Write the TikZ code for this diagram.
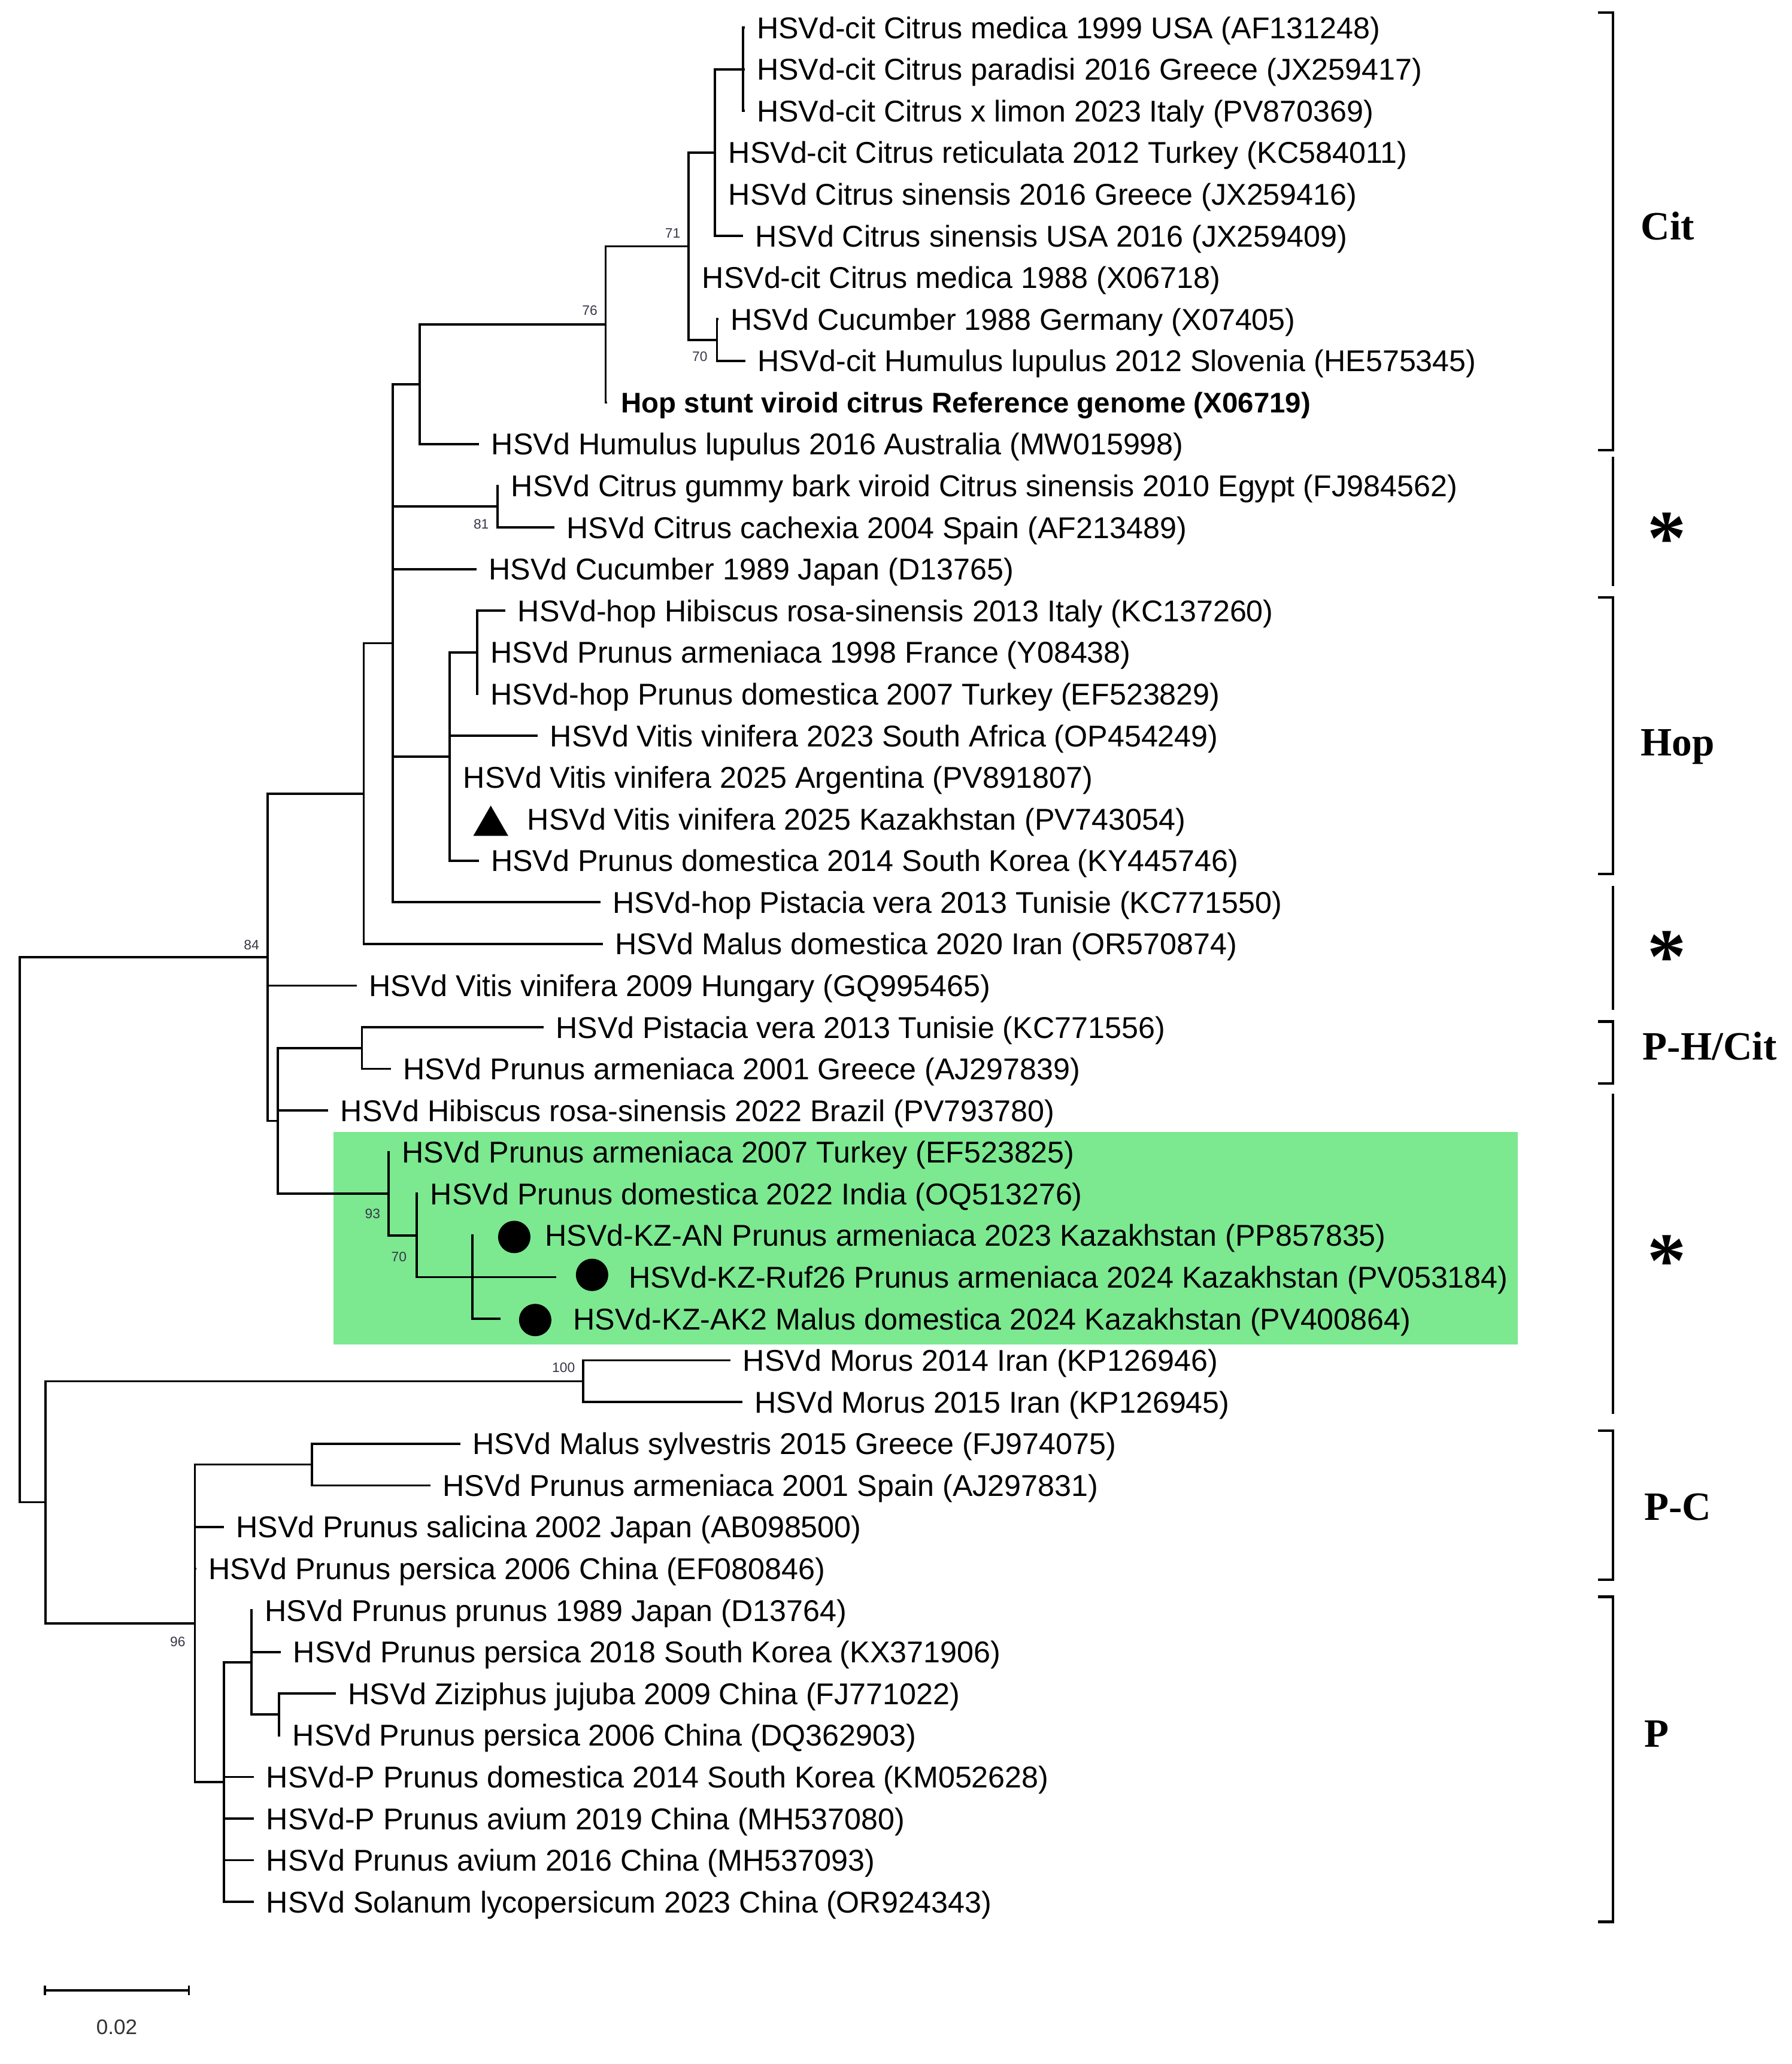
\documentclass[tikz,border=0pt]{standalone}
\usepackage{fontspec}
\setmainfont{Liberation Sans}
\newfontfamily\brfont{Liberation Serif}
\usetikzlibrary{calc,shapes.geometric}
\definecolor{boxgreen}{RGB}{124,232,144}
\definecolor{bsgray}{RGB}{55,55,70}
\newcommand\myleaf[4]{%
  \coordinate (#1) at (#2,#3);
  \node[lab] (t#1) at ($(#1)+(9,8.2)$) {#4};}
\begin{document}
\begin{tikzpicture}[x=0.022cm,y=-0.022cm,
  lab/.style={anchor=base west,inner sep=0pt,font=\fontsize{14.3}{17}\selectfont},
  bs/.style={inner sep=0pt,text=bsgray,font=\fontsize{6.5}{7}\selectfont},
  branch/.style={line width=1.05pt,line join=miter},
  brk/.style={line width=1.2pt},
  clade/.style={anchor=base west,inner sep=0pt,font=\brfont\bfseries\fontsize{19.1}{22}\selectfont},
  ast/.style={anchor=base,inner sep=0pt,font=\brfont\bfseries\fontsize{37}{40}\selectfont},
  dot/.style={circle,fill=black,inner sep=0pt,minimum size=15.4pt},
  tri/.style={regular polygon,regular polygon sides=3,fill=black,inner sep=0pt,minimum size=19.15pt}]
\fill[white] (0,0) rectangle (1361,1568);
\useasboundingbox (0,0) rectangle (1361,1568);
% highlighted clade
\fill[boxgreen] (253.5,860) rectangle (1153,1021.3);
% internal nodes
\coordinate (nA) at (564.5,52.64);
\coordinate (nB) at (543,115.92);
\coordinate (nC) at (523,187.11);
\coordinate (nD) at (544.5,258.3);
\coordinate (nE) at (460,246.43);
\coordinate (nF) at (318.7,291.92);
\coordinate (nG) at (378,384.86);
\coordinate (nH) at (362.3,495.6);
\coordinate (nI) at (341.6,574.7);
\coordinate (nJ) at (298.3,488.68);
\coordinate (nK) at (276.3,602.88);
\coordinate (nL) at (274.9,796.18);
\coordinate (nO) at (358.7,970.2);
\coordinate (nN) at (316.6,938.56);
\coordinate (nM) at (295,906.92);
\coordinate (nP) at (211,851.55);
\coordinate (nQ) at (203.4,727.2);
\coordinate (nR) at (443,1049.3);
\coordinate (nS) at (237,1112.58);
\coordinate (nT) at (212,1302.42);
\coordinate (nU) at (191,1262.87);
\coordinate (nV) at (170,1353.84);
\coordinate (nW) at (148,1233.21);
\coordinate (nX) at (34.7,1141.26);
\coordinate (root) at (15,934.23);
% leaves
\myleaf{l1}{565.5}{21}{HSVd-cit Citrus medica 1999 USA (AF131248)}
\myleaf{l2}{565.5}{52.64}{HSVd-cit Citrus paradisi 2016 Greece (JX259417)}
\myleaf{l3}{565.5}{84.28}{HSVd-cit Citrus x limon 2023 Italy (PV870369)}
\myleaf{l4}{544}{115.92}{HSVd-cit Citrus reticulata 2012 Turkey (KC584011)}
\myleaf{l5}{544}{147.56}{HSVd Citrus sinensis 2016 Greece (JX259416)}
\myleaf{l6}{564.5}{179.2}{HSVd Citrus sinensis USA 2016 (JX259409)}
\myleaf{l7}{524}{210.84}{HSVd-cit Citrus medica 1988 (X06718)}
\myleaf{l8}{545.5}{242.48}{HSVd Cucumber 1988 Germany (X07405)}
\myleaf{l9}{566}{274.12}{HSVd-cit Humulus lupulus 2012 Slovenia (HE575345)}
\coordinate (l10) at (461,305.76);
\node[lab,font=\bfseries\fontsize{13.5}{16}\selectfont] (tl10) at ($(l10)+(10.5,7.8)$) {Hop stunt viroid citrus Reference genome (X06719)};
\myleaf{l11}{364}{337.4}{HSVd Humulus lupulus 2016 Australia (MW015998)}
\myleaf{l12}{379}{369.04}{HSVd Citrus gummy bark viroid Citrus sinensis 2010 Egypt (FJ984562)}
\myleaf{l13}{421}{400.68}{HSVd Citrus cachexia 2004 Spain (AF213489)}
\myleaf{l14}{362}{432.32}{HSVd Cucumber 1989 Japan (D13765)}
\myleaf{l15}{384}{463.96}{HSVd-hop Hibiscus rosa-sinensis 2013 Italy (KC137260)}
\myleaf{l16}{363.3}{495.6}{HSVd Prunus armeniaca 1998 France (Y08438)}
\myleaf{l17}{363.3}{527.24}{HSVd-hop Prunus domestica 2007 Turkey (EF523829)}
\myleaf{l18}{408.5}{558.88}{HSVd Vitis vinifera 2023 South Africa (OP454249)}
\myleaf{l19}{342.6}{590.52}{HSVd Vitis vinifera 2025 Argentina (PV891807)}
\coordinate (l20) at (342.6,622.16);
\node[lab] (tl20) at (400.2,630.36) {HSVd Vitis vinifera 2025 Kazakhstan (PV743054)};
\myleaf{l21}{363.6}{653.8}{HSVd Prunus domestica 2014 South Korea (KY445746)}
\myleaf{l22}{456}{685.44}{HSVd-hop Pistacia vera 2013 Tunisie (KC771550)}
\myleaf{l23}{458}{717.08}{HSVd Malus domestica 2020 Iran (OR570874)}
\myleaf{l24}{271}{748.72}{HSVd Vitis vinifera 2009 Hungary (GQ995465)}
\myleaf{l25}{413}{780.36}{HSVd Pistacia vera 2013 Tunisie (KC771556)}
\myleaf{l26}{297}{812}{HSVd Prunus armeniaca 2001 Greece (AJ297839)}
\myleaf{l27}{249.4}{843.64}{HSVd Hibiscus rosa-sinensis 2022 Brazil (PV793780)}
\myleaf{l28}{296}{875.28}{HSVd Prunus armeniaca 2007 Turkey (EF523825)}
\myleaf{l29}{317.6}{906.92}{HSVd Prunus domestica 2022 India (OQ513276)}
\coordinate (l30) at (359.7,938.56);
\node[lab] (tl30) at (413.7,946.76) {HSVd-KZ-AN Prunus armeniaca 2023 Kazakhstan (PP857835)};
\coordinate (l31) at (422.5,970.2);
\node[lab] (tl31) at (477.2,978.4) {HSVd-KZ-Ruf26 Prunus armeniaca 2024 Kazakhstan (PV053184)};
\coordinate (l32) at (380,1001.84);
\node[lab] (tl32) at (435.2,1010.04) {HSVd-KZ-AK2 Malus domestica 2024 Kazakhstan (PV400864)};
\myleaf{l33}{555}{1033.48}{HSVd Morus 2014 Iran (KP126946)}
\myleaf{l34}{564}{1065.12}{HSVd Morus 2015 Iran (KP126945)}
\myleaf{l35}{349.7}{1096.76}{HSVd Malus sylvestris 2015 Greece (FJ974075)}
\myleaf{l36}{327}{1128.4}{HSVd Prunus armeniaca 2001 Spain (AJ297831)}
\myleaf{l37}{170}{1160.04}{HSVd Prunus salicina 2002 Japan (AB098500)}
\myleaf{l38}{149}{1191.68}{HSVd Prunus persica 2006 China (EF080846)}
\myleaf{l39}{192}{1223.32}{HSVd Prunus prunus 1989 Japan (D13764)}
\myleaf{l40}{213.5}{1254.96}{HSVd Prunus persica 2018 South Korea (KX371906)}
\myleaf{l41}{255}{1286.6}{HSVd Ziziphus jujuba 2009 China (FJ771022)}
\myleaf{l42}{213}{1318.24}{HSVd Prunus persica 2006 China (DQ362903)}
\myleaf{l43}{193}{1349.88}{HSVd-P Prunus domestica 2014 South Korea (KM052628)}
\myleaf{l44}{193}{1381.52}{HSVd-P Prunus avium 2019 China (MH537080)}
\myleaf{l45}{193}{1413.16}{HSVd Prunus avium 2016 China (MH537093)}
\myleaf{l46}{193}{1444.8}{HSVd Solanum lycopersicum 2023 China (OR924343)}
% markers
\node[tri] (m20) at (372.75,627.3) {};
\node[dot] (m30) at (390.6,939.7) {};
\node[dot] (m31) at (449.7,968.5) {};
\node[dot] (m32) at (406.5,1002.8) {};
% branches
\draw[branch] (nA) |- (l1) (nA) |- (l2) (nA) |- (l3);
\draw[branch] (nB) |- (nA) (nB) |- (l4) (nB) |- (l5) (nB) |- (l6);
\draw[branch] (nC) |- (nB) (nC) |- (l7) (nC) |- (nD);
\draw[branch] (nD) |- (l8) (nD) |- (l9);
\draw[branch] (nE) |- (nC) (nE) |- (l10);
\draw[branch] (nF) |- (nE) (nF) |- (l11);
\draw[branch] (nG) |- (l12) (nG) |- (l13);
\draw[branch] (nH) |- (l15) (nH) |- (l16) (nH) |- (l17);
\draw[branch] (nI) |- (nH) (nI) |- (l18) (nI) |- (l19) (nI) |- (l20) (nI) |- (l21);
\draw[branch] (nJ) |- (nF) (nJ) |- (nG) (nJ) |- (l14) (nJ) |- (nI) (nJ) |- (l22);
\draw[branch] (nK) |- (nJ) (nK) |- (l23);
\draw[branch] (nL) |- (l25) (nL) |- (l26);
\draw[branch] (nO) |- (l30) (nO) |- (l31) (nO) |- (l32);
\draw[branch] (nN) |- (l29) (nN) |- (nO);
\draw[branch] (nM) |- (l28) (nM) |- (nN);
\draw[branch] (nP) |- (nL) (nP) |- (l27) (nP) |- (nM);
\draw[branch] (nQ) |- (nK) (nQ) |- (l24) (nQ) |- (nP);
\draw[branch] (nR) |- (l33) (nR) |- (l34);
\draw[branch] (nS) |- (l35) (nS) |- (l36);
\draw[branch] (nT) |- (l41) (nT) |- (l42);
\draw[branch] (nU) |- (l39) (nU) |- (l40) (nU) |- (nT);
\draw[branch] (nV) |- (nU) (nV) |- (l43) (nV) |- (l44) (nV) |- (l45) (nV) |- (l46);
\draw[branch] (nW) |- (nS) (nW) |- (l37) (nW) |- (l38) (nW) |- (nV);
\draw[branch] (nX) |- (nR) (nX) |- (nW);
\draw[branch] (root) |- (nQ) (root) |- (nX);
% bootstrap values
\node[bs] (b71) at (511,177) {71};
\node[bs] (b76) at (448,236) {76};
\node[bs] (b70a) at (531.5,271) {70};
\node[bs] (b81) at (365.5,398) {81};
\node[bs] (b84) at (191,718) {84};
\node[bs] (b93) at (283,922) {93};
\node[bs] (b70b) at (303,955) {70};
\node[bs] (b100) at (428,1039) {100};
\node[bs] (b96) at (135,1247) {96};
% clade brackets
\draw[brk] (1213.6,9.4) -- (1225,9.4) -- (1225,341.8) -- (1213.6,341.8);
\draw[brk] (1225,347) -- (1225,445);
\draw[brk] (1213.6,454) -- (1225,454) -- (1225,664) -- (1213.6,664);
\draw[brk] (1225,673) -- (1225,767);
\draw[brk] (1213.6,776) -- (1225,776) -- (1225,823) -- (1213.6,823);
\draw[brk] (1225,831) -- (1225,1074);
\draw[brk] (1213.6,1087) -- (1225,1087) -- (1225,1200) -- (1213.6,1200);
\draw[brk] (1213.6,1213) -- (1225,1213) -- (1225,1460) -- (1213.6,1460);
\node[clade] (cCit) at (1246,182) {Cit};
\node[clade] (cHop) at (1246,574) {Hop};
\node[clade] (cPH) at (1247.5,805) {P-H/Cit};
\node[clade] (cPC) at (1248.5,1155) {P-C};
\node[clade] (cP) at (1248.5,1327) {P};
\node[ast] (s1) at (1266,428.5) {*};
\node[ast] (s2) at (1266,746.5) {*};
\node[ast] (s3) at (1266,977.7) {*};
% scale bar
\coordinate (sbL) at (34,1512);
\coordinate (sbR) at (143.5,1512);
\draw[branch] (sbL) -- (sbR);
\draw[branch] ($(sbL)+(0,-3.5)$) -- ($(sbL)+(0,3.5)$);
\draw[branch] ($(sbR)+(0,-3.5)$) -- ($(sbR)+(0,3.5)$);
\node[inner sep=0pt,text=black!80,font=\fontsize{10}{12}\selectfont] (sbT) at (88.7,1540) {0.02};
\end{tikzpicture}
\end{document}
